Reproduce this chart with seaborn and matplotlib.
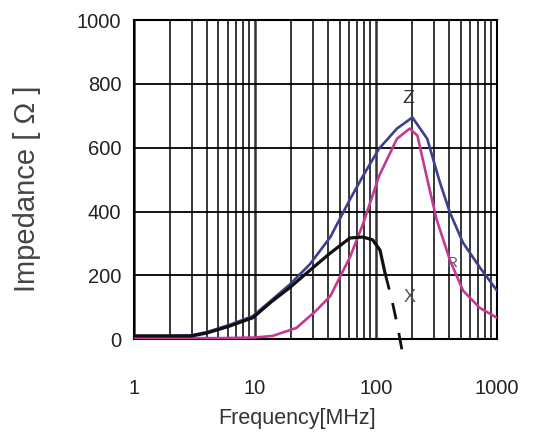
import numpy as np
import pandas as pd
import matplotlib
matplotlib.use("Agg")
import matplotlib.pyplot as plt
from matplotlib.ticker import LogLocator, FixedLocator, FixedFormatter, NullFormatter
import seaborn as sns

# Values (MHz, Ohm)
freq_z = [1, 2, 3, 4, 6.2, 9.6, 14, 19.5, 28.5, 42, 61, 78, 106, 149, 200,
          265, 337, 408, 524, 720, 1000]
imp_z = [10, 10, 12, 22, 45, 72, 125, 172, 235, 320, 438, 511, 597, 660, 695,
         628, 492, 397, 302, 225, 152]

freq_r = [1, 5, 10, 14, 22, 32, 42, 61, 78, 106, 149, 190, 220, 265, 317,
          408, 524, 720, 1000]
imp_r = [3, 3, 5, 10, 35, 89, 135, 257, 360, 511, 628, 660, 638, 502, 375,
         248, 152, 98, 67]

freq_x = [1, 2, 3, 4, 6.2, 9.6, 14, 19.5, 28.5, 42, 61, 78, 94, 108, 119]
imp_x = [10, 10, 10, 19, 41, 67, 120, 162, 216, 270, 317, 320, 311, 279, 206]

# X goes negative above resonance, drawn dashed
freq_x_neg = [119, 135, 150, 165]
imp_x_neg = [206, 125, 45, -40]

x_ticks = [1, 10, 100, 1000]
x_tick_labels = ["1", "10", "100", "1000"]
y_ticks = [0, 200, 400, 600, 800, 1000]

COLOR_Z = "#3e3f8e"
COLOR_R = "#c23a92"
COLOR_X = "#111111"
TEXT = "#222222"
FONT = ["Liberation Sans", "DejaVu Sans"]


def main():
    sns.set_style("white")
    plt.rcParams["font.family"] = FONT

    fig = plt.figure(figsize=(5.42, 4.37), dpi=100)
    ax = fig.add_axes([0.247, 0.224, 0.670, 0.730])

    sns.lineplot(x=freq_z, y=imp_z, ax=ax, color=COLOR_Z, lw=1.9, zorder=4)
    sns.lineplot(x=freq_r, y=imp_r, ax=ax, color=COLOR_R, lw=1.9, zorder=4)
    sns.lineplot(x=freq_x, y=imp_x, ax=ax, color=COLOR_X, lw=2.3, zorder=5)
    sns.lineplot(x=freq_x_neg, y=imp_x_neg, ax=ax, color=COLOR_X, lw=2.0,
                 linestyle=(0, (6, 5)), zorder=5, clip_on=False)

    ax.set_xscale("log")
    ax.set_xlim(1, 1000)
    ax.set_ylim(0, 1000)

    ax.xaxis.set_major_locator(FixedLocator(x_ticks))
    ax.xaxis.set_major_formatter(FixedFormatter(x_tick_labels))
    ax.xaxis.set_minor_locator(LogLocator(base=10, subs=np.arange(2, 10)))
    ax.xaxis.set_minor_formatter(NullFormatter())
    ax.set_yticks(y_ticks)

    ax.grid(which="major", axis="x", color="#333333", lw=1.8, zorder=1)
    ax.grid(which="minor", axis="x", color="black", lw=1.1, zorder=1)
    ax.grid(which="major", axis="y", color="black", lw=1.3, zorder=1)
    ax.set_axisbelow(True)

    ax.tick_params(which="both", length=0)
    ax.tick_params(axis="x", pad=29, labelsize=14.5, labelcolor=TEXT)
    ax.tick_params(axis="y", pad=9, labelsize=14.5, labelcolor=TEXT)

    for sp in ax.spines.values():
        sp.set_color("black")
        sp.set_linewidth(1.5)

    ax.set_xlabel("Frequency[MHz]", fontsize=15.5, color="#333333")
    ax.xaxis.set_label_coords(0.449, -0.215)
    ax.set_ylabel("Impedance [ Ω ]", fontsize=21, color="#444444")
    ax.yaxis.set_label_coords(-0.255, 0.47)

    # Curve labels
    ax.text(184, 755, "Z", fontsize=14, family=FONT, color="#333333",
            ha="center", va="center")
    ax.text(427, 238, "R", fontsize=11, family=FONT, color="#555555",
            ha="center", va="center")
    ax.text(190, 130, "X", fontsize=13, family=FONT, color="#555555",
            ha="center", va="center")

    fig.savefig("out.png", dpi=100)
    plt.close(fig)


if __name__ == "__main__":
    main()
